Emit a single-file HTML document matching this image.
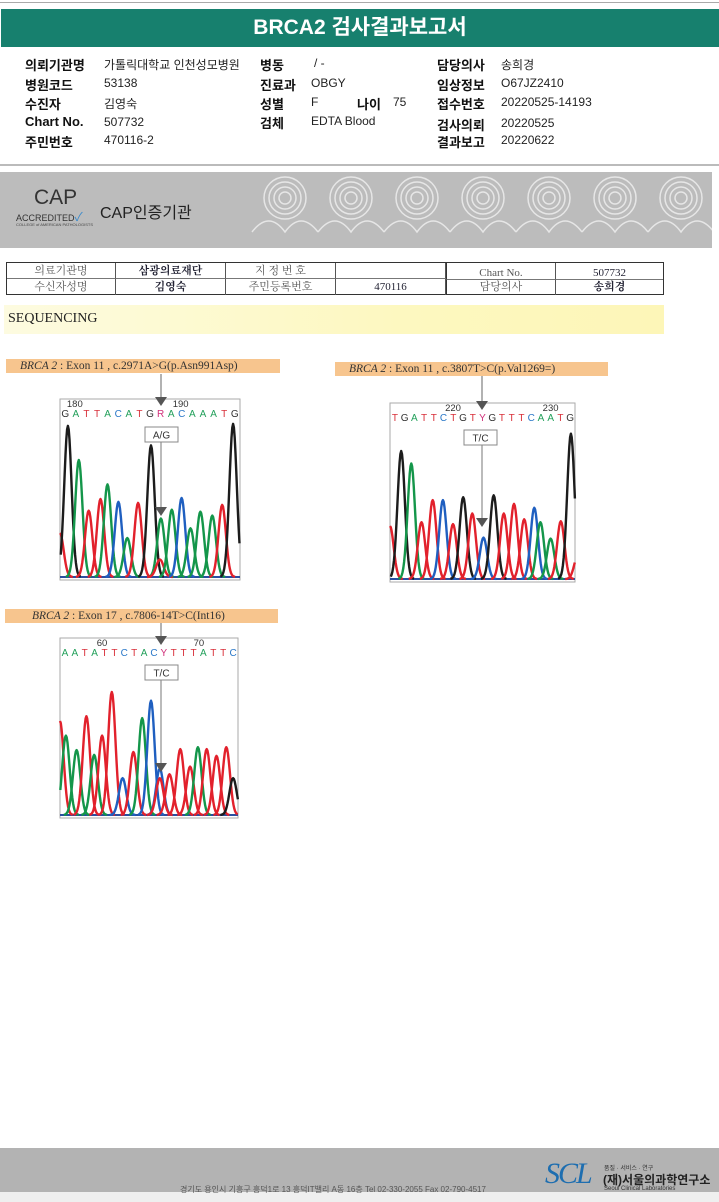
<!DOCTYPE html>
<html><head><meta charset="utf-8">
<style>
*{margin:0;padding:0;box-sizing:border-box}
body{width:719px;height:1202px;position:relative;background:#fff;overflow:hidden;font-family:"Liberation Sans","Noto Sans CJK KR",sans-serif;color:#111}
.abs{position:absolute}
.lbl{position:absolute;font-weight:bold;font-size:13px}
.val{position:absolute;font-size:12px;color:#222}
.tbl{position:absolute;left:6px;top:262px;width:658px;height:33px;border:1px solid #333;font-family:"Liberation Serif","Noto Serif CJK SC",serif;font-size:11px}
.cell{position:absolute;height:16px;line-height:16px;text-align:center;border-right:1px solid #555;border-bottom:1px solid #777;color:#555}
.b{font-weight:bold;color:#223}
.cap{position:absolute;height:14px;background:#f7c58e;font-family:"Liberation Serif",serif;font-size:11.5px;color:#333;line-height:14px;padding-left:14px}
.cap i{font-style:italic}
</style></head>
<body>
<div class="abs" style="left:0;top:2px;width:719px;height:1px;background:#aaa"></div>
<div class="abs" style="left:1px;top:9px;width:718px;height:38px;background:#17806e;color:#fff;font-weight:bold;font-size:21px;text-align:center;line-height:38px;font-family:'Liberation Sans','Noto Sans CJK KR',sans-serif">BRCA2 검사결과보고서</div>

<div>
<div class="lbl" style="left:25px;top:55px">의뢰기관명</div><div class="val" style="left:104px;top:56px">가톨릭대학교 인천성모병원</div>
<div class="lbl" style="left:25px;top:75px">병원코드</div><div class="val" style="left:104px;top:76px">53138</div>
<div class="lbl" style="left:25px;top:94px">수진자</div><div class="val" style="left:104px;top:95px">김영숙</div>
<div class="lbl" style="left:25px;top:114px">Chart No.</div><div class="val" style="left:104px;top:115px">507732</div>
<div class="lbl" style="left:25px;top:132px">주민번호</div><div class="val" style="left:104px;top:133px">470116-2</div>
<div class="lbl" style="left:260px;top:55px">병동</div><div class="val" style="left:314px;top:56px">/ -</div>
<div class="lbl" style="left:260px;top:75px">진료과</div><div class="val" style="left:311px;top:76px">OBGY</div>
<div class="lbl" style="left:260px;top:94px">성별</div><div class="val" style="left:311px;top:95px">F</div>
<div class="lbl" style="left:357px;top:94px">나이</div><div class="val" style="left:393px;top:95px">75</div>
<div class="lbl" style="left:260px;top:113px">검체</div><div class="val" style="left:311px;top:114px">EDTA Blood</div>
<div class="lbl" style="left:437px;top:55px">담당의사</div><div class="val" style="left:501px;top:56px">송희경</div>
<div class="lbl" style="left:437px;top:75px">임상정보</div><div class="val" style="left:501px;top:76px">O67JZ2410</div>
<div class="lbl" style="left:437px;top:94px">접수번호</div><div class="val" style="left:501px;top:95px">20220525-14193</div>
<div class="lbl" style="left:437px;top:115px">검사의뢰</div><div class="val" style="left:501px;top:116px">20220525</div>
<div class="lbl" style="left:437px;top:132px">결과보고</div><div class="val" style="left:501px;top:133px">20220622</div>
</div>
<div class="abs" style="left:0;top:164px;width:719px;height:2px;background:#bbb"></div>

<div class="abs" style="left:0;top:172px;width:712px;height:76px;background:#bcbcbc">
<svg width="712" height="76" style="position:absolute;left:0;top:0">
<g fill="none" stroke="#e6e6e6" stroke-width="1.5" id="clouds"></g></svg>
<div class="abs" style="left:34px;top:14px;font-size:21px;color:#333">CAP</div>
<div class="abs" style="left:16px;top:36px;font-size:9px;color:#333">ACCREDITED<span style="color:#3a8acc;font-size:12px">✓</span></div>
<div class="abs" style="left:16px;top:50px;font-size:4px;color:#444">COLLEGE of AMERICAN PATHOLOGISTS</div>
<div class="abs" style="left:100px;top:27px;font-size:16px;color:#222">CAP인증기관</div>
</div>

<div class="tbl">
<div class="cell" style="left:0;top:0;width:109px">의료기관명</div>
<div class="cell b" style="left:109px;top:0;width:110px">삼광의료재단</div>
<div class="cell" style="left:219px;top:0;width:110px">지 정 번 호</div>
<div class="cell" style="left:329px;top:0;width:110px"></div>
<div class="cell" style="left:0;top:16px;width:109px;border-bottom:none">수신자성명</div>
<div class="cell b" style="left:109px;top:16px;width:110px;border-bottom:none">김영숙</div>
<div class="cell" style="left:219px;top:16px;width:110px;border-bottom:none">주민등록번호</div>
<div class="cell" style="left:329px;top:16px;width:110px;border-bottom:none;color:#223">470116</div>
<div class="cell" style="left:439px;top:0;width:110px;border-left:1px solid #333;height:17px;line-height:20px">Chart No.</div>
<div class="cell" style="left:549px;top:0;width:107px;border-right:none;color:#223;line-height:20px;height:17px">507732</div>
<div class="cell" style="left:439px;top:17px;width:110px;border-bottom:none;border-left:1px solid #333;height:15px;line-height:15px">담당의사</div>
<div class="cell b" style="left:549px;top:17px;width:107px;border-right:none;border-bottom:none;height:15px;line-height:15px">송희경</div>
</div>

<div class="abs" style="left:4px;top:305px;width:660px;height:29px;background:linear-gradient(90deg,#fdfbe0,#fdf8c0 60%,#fdf6b8);font-family:'Liberation Serif',serif;font-size:14px;line-height:27px;padding-left:4px;color:#222">SEQUENCING</div>

<div class="cap" style="left:6px;top:359px;width:274px"><i>BRCA 2</i> : Exon 11 , c.2971A&gt;G(p.Asn991Asp)</div>
<div class="cap" style="left:335px;top:362px;width:273px"><i>BRCA 2</i> : Exon 11 , c.3807T&gt;C(p.Val1269=)</div>
<div class="cap" style="left:5px;top:609px;width:273px;padding-left:27px"><i>BRCA 2</i> : Exon 17 , c.7806-14T&gt;C(Int16)</div>

<svg id="chart1" class="abs" style="left:0;top:0" width="719" height="1202"></svg>

<div class="abs" style="left:0;top:1148px;width:719px;height:44px;background:#b3b3b3"></div>
<div class="abs" style="left:0;top:1192px;width:719px;height:10px;background:#efefef"></div>
<div class="abs" style="left:180px;top:1184px;font-size:8px;color:#555;white-space:nowrap">경기도 용인시 기흥구 흥덕1로 13 흥덕IT밸리 A동 16층 Tel 02-330-2055 Fax 02-790-4517</div>
<div class="abs" style="left:545px;top:1157px;font-family:'Liberation Serif',serif;font-style:italic;font-size:30px;color:#1e6eb0;letter-spacing:-2px">SCL</div>
<div class="abs" style="left:604px;top:1163px;font-size:6px;color:#333">품질 · 서비스 · 연구</div>
<div class="abs" style="left:603px;top:1171px;font-size:12px;font-weight:bold;color:#222">(재)서울의과학연구소</div>
<div class="abs" style="left:604px;top:1186px;font-size:6px;color:#333">Seoul Clinical Laboratories</div>

<script>
// ---- Chart 1: c.2971A>G ----
const c1Bases = ["G","A","T","T","A","C","A","T","G","R","A","C","A","A","A","T","G"];
const c1Ticks = ["180","190"];
const c1TickScan = [15, 122];
const c1Scan = [0, 8, 19, 29, 41, 48, 59, 68, 79, 92, 102, 101, 113, 123, 132, 142, 154, 164, 175];
const c1Height = [45, 155, 120, 68, 80, 95, 77, 40, 76, 135, 60, 18, 69, 81, 50, 67, 63, 74, 157];
const c1Color = ["r","k","g","r","r","g","b","g","r","k","g","r","g","b","g","g","g","r","k"];
// ---- Chart 2: c.3807T>C ----
const c2Bases = ["T","G","A","T","T","C","T","G","T","Y","G","T","T","T","C","A","A","T","G"];
const c2Ticks = ["220","230"];
const c2TickScan = [62, 158];
const c2Scan = [0, 11, 21, 31, 42, 52, 62, 72, 81, 92, 102, 112, 122, 132, 142, 148, 158, 168, 178, 185];
const c2Height = [55, 133, 120, 59, 82, 82, 57, 85, 68, 43, 87, 68, 78, 62, 74, 59, 42, 60, 151, 25];
const c2Color = ["r","k","g","r","r","b","r","k","r","b","k","r","r","r","b","g","g","r","k","r"];
// ---- Chart 3: c.7806-14T>C ----
const c3Bases = ["A","A","T","A","T","T","C","T","A","C","Y","T","T","T","A","T","T","C"];
const c3Ticks = ["60","70"];
const c3TickScan = [43, 142];
const c3Scan = [0, 6, 17, 27, 35, 43, 53, 64, 75, 84, 93, 102, 102, 112, 123, 133, 141, 150, 160, 170, 177];
const c3Height = [97, 82, 67, 102, 62, 82, 127, 38, 65, 100, 118, 48, 38, 42, 68, 50, 70, 68, 61, 70, 38];
const c3Color = ["r","g","g","r","g","r","r","b","r","g","b","b","r","r","r","r","g","r","r","r","k"];

const NS = "http://www.w3.org/2000/svg";
const COL = {k:"#1c1c1c", g:"#14964a", r:"#e2212c", b:"#1f5fc0"};
const BASECOL = {A:"#22a05a", C:"#2a78c8", G:"#333", T:"#d8303a", R:"#d0307a", Y:"#d0307a"};
const svg = document.getElementById("chart1");

function mk(tag, attrs){const e=document.createElementNS(NS,tag);for(const k in attrs)e.setAttribute(k,attrs[k]);svg.appendChild(e);return e;}

function drawChart(cfg, bases, ticks, tickScan, scan, height, color){
  const {x0,y0,w,h,labelTop,boxLabel,boxX,boxY,arrowX,arrowTo,name} = cfg;
  const base = y0 + h - 3;
  const xS = v => x0 + v * (w / 182);
  const yS = v => base - v * ((h - 25) / 160);
  const frame = mk("rect",{x:x0,y:y0,width:w,height:h,fill:"#fff",stroke:"#aaa","stroke-width":1});
  
  
  const bl = mk("path",{d:`M${x0} ${base} L${x0+w} ${base}`,stroke:"#2a4fa0","stroke-width":2});
  
  
  for(let i=0;i<scan.length;i++){
    const cx = xS(scan[i]), top = yS(height[i]);
    let d = "";
    for(let t=-16;t<=16;t+=1){
      const px = cx + t*0.8;
      if(px < x0 || px > x0+w) continue;
      const py = base - (base-top)*Math.exp(-(t*t)/(2*4.6*4.6));
      d += (d?"L":"M") + px.toFixed(1) + " " + py.toFixed(1);
    }
    const p = mk("path",{d, fill:"none", stroke:COL[color[i]], "stroke-width":2.4, "stroke-linejoin":"round"});
    
    
  }
  const step = w / bases.length;
  for(let i=0;i<bases.length;i++){
    const t = mk("text",{x:x0 + step*(i+0.5), y:y0+18, "text-anchor":"middle", "font-size":10, "font-family":"Liberation Sans, sans-serif", fill:BASECOL[bases[i]]});
    t.textContent = bases[i];
    
    
  }
  for(let i=0;i<ticks.length;i++){
    const t = mk("text",{x:xS(tickScan[i]), y:y0+8, "text-anchor":"middle", "font-size":9.5, "font-family":"Liberation Sans, sans-serif", fill:"#333"});
    t.textContent = ticks[i];
    
    
  }
  const l1 = mk("line",{x1:arrowX,y1:labelTop,x2:arrowX,y2:y0+2,stroke:"#666","stroke-width":1});
  
  
  const a1 = mk("path",{d:`M${arrowX-6} ${y0-2} L${arrowX+6} ${y0-2} L${arrowX} ${y0+7} Z`,fill:"#555"});
  
  
  const l2 = mk("line",{x1:arrowX,y1:boxY+15,x2:arrowX,y2:arrowTo,stroke:"#777","stroke-width":1});
  
  
  const a2 = mk("path",{d:`M${arrowX-6} ${arrowTo} L${arrowX+6} ${arrowTo} L${arrowX} ${arrowTo+9} Z`,fill:"#555"});
  
  
  const bx = mk("rect",{x:boxX,y:boxY,width:33,height:15,fill:"#fff",stroke:"#888","stroke-width":1});
  
  
  const bt = mk("text",{x:boxX+16.5,y:boxY+11.5,"text-anchor":"middle","font-size":10,"font-family":"Liberation Sans, sans-serif",fill:"#333"});
  bt.textContent = boxLabel;
  
  
}

drawChart({x0:60,y0:399,w:180,h:181,labelTop:374,boxLabel:"A/G",boxX:145,boxY:427,arrowX:161,arrowTo:507,name:"variant1"}, c1Bases,c1Ticks,c1TickScan,c1Scan,c1Height,c1Color);
drawChart({x0:390,y0:403,w:185,h:179,labelTop:376,boxLabel:"T/C",boxX:464,boxY:430,arrowX:482,arrowTo:518,name:"variant2"}, c2Bases,c2Ticks,c2TickScan,c2Scan,c2Height,c2Color);
drawChart({x0:60,y0:638,w:178,h:180,labelTop:623,boxLabel:"T/C",boxX:145,boxY:665,arrowX:161,arrowTo:763,name:"variant3"}, c3Bases,c3Ticks,c3TickScan,c3Scan,c3Height,c3Color);

const cg = document.getElementById("clouds");
for(let i=0;i<7;i++){
  const cx = 285 + i*66;
  for(let r=6;r<=22;r+=5){
    const c=document.createElementNS(NS,"circle");
    c.setAttribute("cx",cx);c.setAttribute("cy",26);c.setAttribute("r",r);
    cg.appendChild(c);
  }
  const c2=document.createElementNS(NS,"path");
  c2.setAttribute("d",`M${cx-33} 60 Q${cx-16} 38 ${cx} 60 Q${cx+16} 38 ${cx+33} 60`);
  cg.appendChild(c2);
}
</script>
</body></html>
